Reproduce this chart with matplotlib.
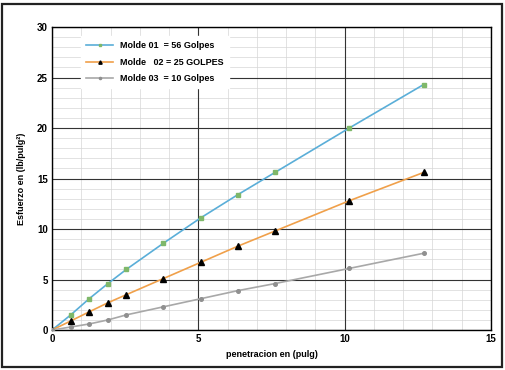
import numpy as np
import matplotlib.pyplot as plt
from matplotlib.patches import Rectangle

# penetraciones (pulg) y esfuerzos
penetracion = [0, 0.64, 1.27, 1.91, 2.54, 3.81, 5.08, 6.35, 7.62, 10.16, 12.7]
molde_01 = [0, 1.5, 3.1, 4.6, 6.0, 8.6, 11.1, 13.4, 15.6, 20.0, 24.3]
molde_02 = [0, 0.9, 1.8, 2.7, 3.5, 5.1, 6.7, 8.3, 9.8, 12.8, 15.6]
molde_03 = [0, 0.3, 0.6, 1.0, 1.5, 2.3, 3.1, 3.9, 4.6, 6.1, 7.6]

etiquetas = ["Molde 01  = 56 Golpes", "Molde   02 = 25 GOLPES", "Molde 03  = 10 Golpes"]
x_ticks = [0, 5, 10, 15]
y_ticks = [0, 5, 10, 15, 20, 25, 30]

plt.rcParams["font.family"] = ["Liberation Sans", "DejaVu Sans"]

fig = plt.figure(figsize=(5.05, 3.7), dpi=100)
fig.patches.append(Rectangle((0.004, 0.008), 0.99, 0.982, transform=fig.transFigure,
                             fill=False, edgecolor="#222222", linewidth=1.6))
ax = fig.add_axes([0.103, 0.108, 0.869, 0.819])

ax.plot(penetracion, molde_01, color="#5aaed8", lw=1.2, marker="s", ms=2.6,
        mfc="#7fb86a", mec="#7fb86a", label=etiquetas[0], zorder=3)
ax.plot(penetracion, molde_02, color="#f0a04a", lw=1.2, marker="^", ms=4,
        mfc="black", mec="black", label=etiquetas[1], zorder=3)
ax.plot(penetracion, molde_03, color="#a8a8a8", lw=1.2, marker="o", ms=2.6,
        mfc="#909090", mec="#909090", label=etiquetas[2], zorder=3)

ax.set_xlim(0, 15)
ax.set_ylim(0, 30)
ax.set_xticks(x_ticks)
ax.set_yticks(y_ticks)
ax.set_xticks([v for v in range(15) if v % 5], minor=True)
ax.set_yticks([v for v in range(30) if v % 5], minor=True)
ax.set_axisbelow(True)
ax.grid(which="minor", color="#d6d6d6", lw=0.5)
# rejilla principal encima de la secundaria
for xv in x_ticks:
    ax.axvline(xv, color="#333333", lw=0.8, zorder=1)
for yv in y_ticks:
    ax.axhline(yv, color="#333333", lw=0.8, zorder=1)
ax.tick_params(which="both", length=0, labelsize=7, pad=3)
for lbl in ax.get_xticklabels() + ax.get_yticklabels():
    lbl.set_fontweight("bold")
for s in ax.spines.values():
    s.set_color("black")
    s.set_linewidth(1.0)

ax.set_xlabel("penetracion en (pulg)", fontsize=6.5, fontweight="bold", labelpad=4)
ax.set_ylabel("Esfuerzo en (lb/pulg²)", fontsize=6.5, fontweight="bold", labelpad=8)

leg = ax.legend(loc="upper left", bbox_to_anchor=(0.055, 0.985), fontsize=6.5,
                frameon=True, fancybox=False, edgecolor="white", framealpha=1,
                handlelength=3.0, labelspacing=0.8, borderpad=0.6, markerscale=0.6)
leg.set_zorder(5)
for t in leg.get_texts():
    t.set_fontweight("bold")

fig.savefig("out.png", dpi=100)
